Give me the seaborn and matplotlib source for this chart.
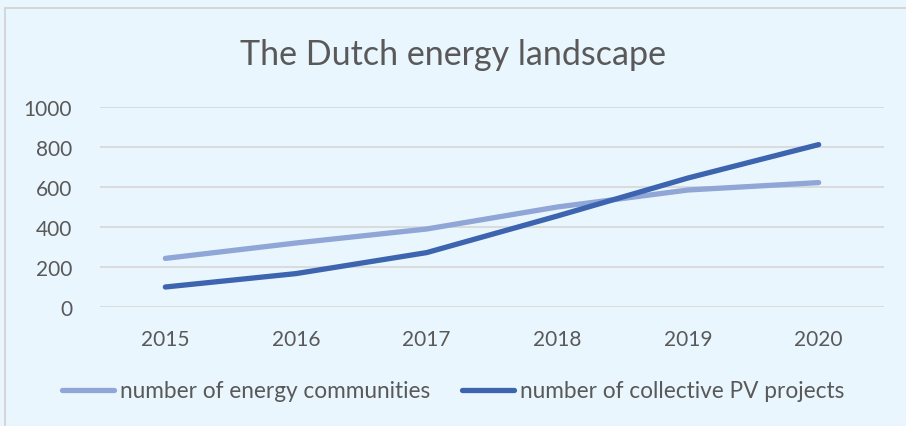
import numpy as np
import pandas as pd
import seaborn as sns
import matplotlib.pyplot as plt
from matplotlib.patches import Rectangle

years = ['2015', '2016', '2017', '2018', '2019', '2020']
communities = [243, 320, 390, 500, 585, 622]
pv_projects = [100, 167, 272, 455, 645, 812]
series_names = ['number of energy communities', 'number of collective PV projects']

df = pd.DataFrame({
    'year': years * 2,
    'value': communities + pv_projects,
    'series': [series_names[0]] * len(years) + [series_names[1]] * len(years),
})

sns.set_style('white')
plt.rcParams['font.family'] = ['Lato', 'DejaVu Sans']

bg = '#EAF6FE'
txt = '#595959'
fig = plt.figure(figsize=(9.06, 4.27), dpi=100, facecolor=bg)
fig.patches.append(Rectangle((5 / 906, -0.1), 1.2, 1 - 9 / 427 + 0.1, transform=fig.transFigure,
                             fill=False, edgecolor='#D0D0D0', linewidth=1.2))
ax = fig.add_axes([100 / 906, 1 - 308 / 427, 784 / 906, 200 / 427])
ax.set_facecolor(bg)

sns.lineplot(data=df, x='year', y='value', hue='series', palette=['#8FA6D7', '#3C64AF'],
             linewidth=3.8, ax=ax, legend=True, sort=False)
for ln in ax.lines:
    ln.set_solid_capstyle('round')

ax.set_xlim(-0.5, 5.5)
ax.set_ylim(0, 1000)
ax.set_yticks(range(0, 1001, 200))
ax.yaxis.grid(True, color='#D9D9D9', linewidth=1.3)
ax.set_axisbelow(True)
for s in ax.spines.values():
    s.set_visible(False)
ax.tick_params(axis='both', length=0, labelsize=15, labelcolor=txt)
ax.tick_params(axis='y', pad=20)
ax.tick_params(axis='x', pad=16)
ax.set_xlabel('')
ax.set_ylabel('')

fig.text(0.5, 1 - 55 / 427, 'The Dutch energy landscape', ha='center', va='center',
         fontsize=24.5, color=txt)

handles, labels = ax.get_legend_handles_labels()
ax.legend(handles, labels, loc='center', bbox_to_anchor=(0.5, 1 - 392 / 427),
          bbox_transform=fig.transFigure, ncol=2, frameon=False, fontsize=16.3,
          labelcolor=txt, handlelength=2.3, handletextpad=0.25, columnspacing=1.4)

fig.savefig('out.png', dpi=100, facecolor=bg)
